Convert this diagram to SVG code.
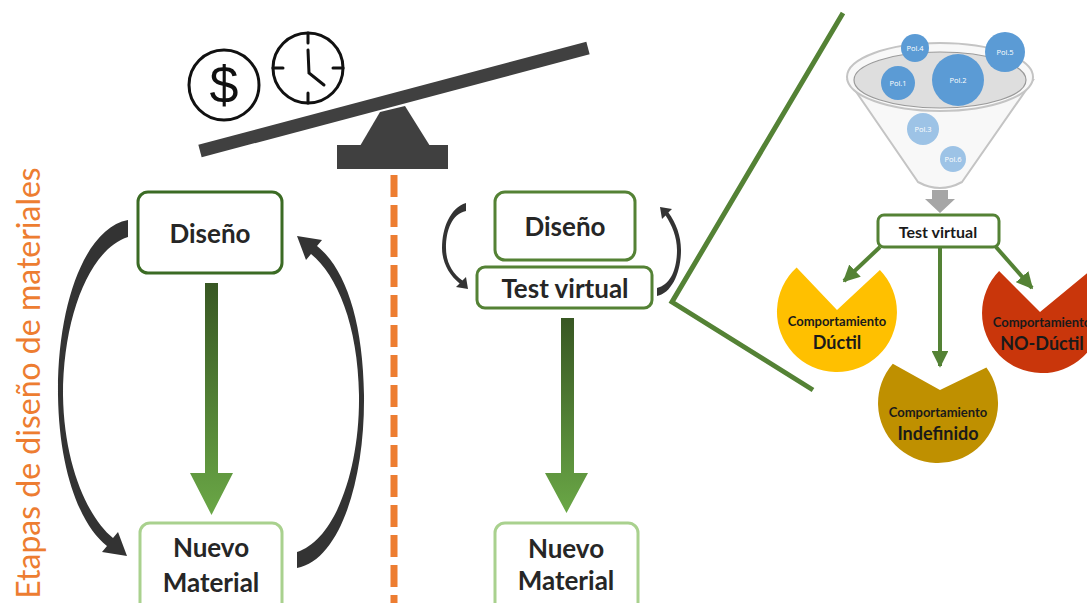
<svg xmlns="http://www.w3.org/2000/svg" width="1087" height="603" viewBox="0 0 1087 603">
  <defs>
    <linearGradient id="gDown" x1="0" y1="0" x2="0" y2="1">
      <stop offset="0" stop-color="#385723"/>
      <stop offset="1" stop-color="#6aa746"/>
    </linearGradient>
    <marker id="head" viewBox="0 0 10 10" refX="9" refY="5" markerWidth="4.2" markerHeight="4.2" orient="auto" markerUnits="strokeWidth">
      <path d="M0,0 L10,5 L0,10 Z" fill="#548235"/>
    </marker>
    <style>
      .box { fill: #ffffff; stroke-width: 3; }
      .dark { stroke: #3b6b24; }
      .mid { stroke: #548235; }
      .light { stroke: #a9d18e; }
      .lbl { font-family: Lato, "Liberation Sans", sans-serif; font-weight: 700; font-size: 26px; fill: #262626; text-anchor: middle; }
      .loop { fill: #333333; }
      .branch { stroke: #548235; stroke-width: 4; fill: none; marker-end: url(#head); }
      .pol { font-family: "Open Sans", "Liberation Sans", sans-serif; font-size: 7.5px; fill: #ffffff; text-anchor: middle; }
      .cmp { font-family: Lato, "Liberation Sans", sans-serif; font-weight: 700; fill: #1a1a1a; text-anchor: middle; }
    </style>
  </defs>

  <!-- vertical title -->
  <text transform="translate(40,383) rotate(-90)" font-family="Lato, 'Liberation Sans', sans-serif" font-size="32" fill="#ed7d31" text-anchor="middle">Etapas de diseño de materiales</text>

  <!-- balance: cost vs time -->
  <g id="balance">
    <line x1="200" y1="151" x2="588" y2="48" stroke="#404040" stroke-width="13"/>
    <polygon points="380,112 405,106 430,146 360,146" fill="#404040"/>
    <rect x="337" y="145" width="111" height="24" fill="#404040"/>
    <g id="money" fill="none" stroke="#111" stroke-width="3">
      <circle cx="224" cy="85" r="35"/>
    </g>
    <text x="224" y="103" font-family="'Liberation Sans', sans-serif" font-size="52" fill="#111" text-anchor="middle">$</text>
    <g id="clock" fill="none" stroke="#111" stroke-width="3" stroke-linecap="round">
      <circle cx="308" cy="68" r="35"/>
      <line x1="308" y1="33" x2="308" y2="43"/>
      <line x1="308" y1="93" x2="308" y2="103"/>
      <line x1="273" y1="68" x2="283" y2="68"/>
      <line x1="333" y1="68" x2="343" y2="68"/>
      <polyline points="308,50 309,73 324,85"/>
    </g>
  </g>

  <!-- separator -->
  <line x1="394" y1="175" x2="394" y2="603" stroke="#ed7d31" stroke-width="7" stroke-dasharray="22 8"/>

  <!-- left column: traditional loop -->
  <g id="diseno-1">
    <rect class="box dark" x="138" y="192" width="144" height="81" rx="10"/>
    <text class="lbl" x="210" y="243">Diseño</text>
  </g>
  <g id="nuevo-1">
    <rect class="box light" x="140" y="523" width="142" height="95" rx="10"/>
    <text class="lbl" x="211" y="557">Nuevo</text>
    <text class="lbl" x="211" y="592">Material</text>
  </g>

  <!-- middle column: virtual testing loop -->
  <g id="diseno-2">
    <rect class="box mid" x="495" y="192" width="140" height="68" rx="10"/>
    <text class="lbl" x="565" y="236">Diseño</text>
  </g>
  <g id="test-2">
    <rect class="box mid" x="477" y="267" width="175" height="41" rx="8"/>
    <text class="lbl" x="565" y="298">Test virtual</text>
  </g>
  <g id="nuevo-2">
    <rect class="box light" x="495" y="523" width="143" height="95" rx="10"/>
    <text class="lbl" x="566" y="558">Nuevo</text>
    <text class="lbl" x="566" y="590">Material</text>
  </g>

  <!-- funnel of candidate polymers -->
  <g id="funnel">
    <path d="M848,80 L918,182 Q940,194 962,182 L1033,80 Z" fill="#f8f8f8" stroke="#c4c4c4" stroke-width="2"/>
    <ellipse cx="940" cy="77" rx="93" ry="34" fill="#f8f8f8" stroke="#c4c4c4" stroke-width="2"/>
    <ellipse cx="940" cy="80" rx="86" ry="28" fill="#dedede" stroke="#9a9a9a" stroke-width="1.2"/>
    <circle cx="923" cy="129" r="16" fill="#9dc3e6"/>
    <circle cx="953" cy="159" r="13" fill="#9dc3e6"/>
    <circle cx="898" cy="83" r="17" fill="#5b9bd5"/>
    <circle cx="958" cy="80" r="26" fill="#5b9bd5"/>
    <circle cx="915" cy="48" r="14" fill="#5b9bd5"/>
    <circle cx="1005" cy="52" r="20" fill="#5b9bd5"/>
    <text class="pol" x="915" y="51">Pol.4</text>
    <text class="pol" x="1005" y="55">Pol.5</text>
    <text class="pol" x="898" y="86">Pol.1</text>
    <text class="pol" x="958" y="83">Pol.2</text>
    <text class="pol" x="923" y="132">Pol.3</text>
    <text class="pol" x="953" y="162">Pol.6</text>
    <path d="M932,190 H948 V199 H955 L940,213 L925,199 H932 Z" fill="#a6a6a6"/>
  </g>

  <g id="test-3">
    <rect class="box mid" x="878" y="215" width="121" height="32" rx="6"/>
    <text class="cmp" x="938" y="238" font-size="16">Test virtual</text>
  </g>

  <g id="ductil">
    <path d="M837,310 L796.6,267.6 A60,60 0 1 0 879.9,270.1 Z" fill="#ffc000"/>
    <text class="cmp" x="837" y="326" font-size="13">Comportamiento</text>
    <text class="cmp" x="837" y="349" font-size="18">Dúctil</text>
  </g>
  <g id="indefinido">
    <path d="M940,390 L892.8,363.7 A60,60 0 1 0 986.4,367.6 Z" fill="#bf9000"/>
    <text class="cmp" x="938" y="417" font-size="13">Comportamiento</text>
    <text class="cmp" x="938" y="440" font-size="18">Indefinido</text>
  </g>
  <g id="no-ductil">
    <path d="M1040,312 L999.1,271.1 A60,60 0 1 0 1087,273.3 Z" fill="#c9360b"/>
    <text class="cmp" x="1042" y="327" font-size="13">Comportamiento</text>
    <text class="cmp" x="1042" y="350" font-size="18">NO-Dúctil</text>
  </g>

  <!-- connectors -->
  <g id="connectors">
    <!-- main flow arrows -->
    <path d="M205,283 H218 V473 H233 L211.5,515 L190,473 H205 Z" fill="url(#gDown)"/>
    <path d="M561,318 H574 V473 H588 L566.5,513 L545,473 H561 Z" fill="url(#gDown)"/>
    <!-- iteration loops, left column -->
    <path class="loop" d="M128,220 C85,228 57,305 58,395 C59,470 80,525 107,546 L102,552 L127,556 L118,532 L113,538 C88,518 64,465 63,395 C63,320 88,250 128,237 Z"/>
    <path class="loop" d="M297,568 C340,560 365,480 364,395 C363,320 345,268 317,246 L322,240 L297,236 L306,260 L311,254 C337,275 358,325 359,395 C360,470 335,540 297,552 Z"/>
    <!-- iteration loops, middle column -->
    <path class="loop" d="M466,203 C450,208 442,228 442,248 C442,262 449,275 459.6,283.4 L456,287 L468,289 L466,277 L462.4,280.6 C452,273 446,262 446,248 C446,230 452,214 466,211 Z"/>
    <path class="loop" d="M657,296 C672,293 681,272 681,250 C681,236 676,223 668.4,212.6 L672,209 L660,207 L662,219 L665.6,215.4 C672,225 677,237 677,250 C677,270 670,285 657,288 Z"/>
    <!-- zoom callout -->
    <polyline points="843,13 672,302 813,390" fill="none" stroke="#548235" stroke-width="5"/>
    <!-- virtual test outcomes -->
    <line class="branch" x1="880" y1="247" x2="844" y2="281"/>
    <line class="branch" x1="940" y1="247" x2="940" y2="366"/>
    <line class="branch" x1="996" y1="247" x2="1032" y2="288"/>
  </g>
</svg>
